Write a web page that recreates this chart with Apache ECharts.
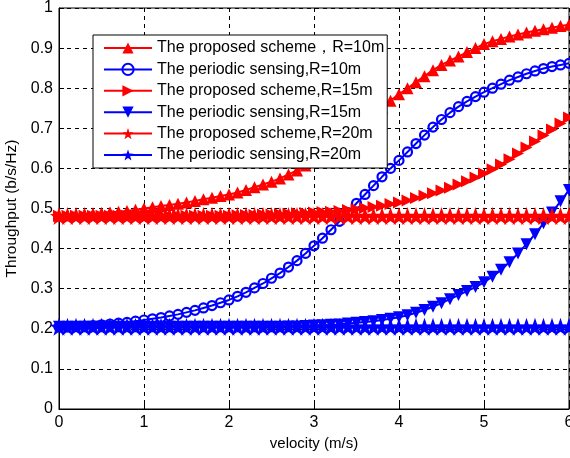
<!DOCTYPE html>
<html>
<head>
<meta charset="utf-8">
<script src="https://cdn.jsdelivr.net/npm/echarts@6/dist/echarts.min.js"></script>
<style>html,body{margin:0;padding:0;background:#fff}#c{width:570px;height:458px}</style>
</head>
<body>
<div id="c"></div>
<script>
// velocity samples 0:0.1:6
var velocity = [];
for (var i = 0; i <= 60; i++) velocity.push(+(i / 10).toFixed(1));

var seriesNames = [
  'The proposed scheme\uFF0CR=10m',
  'The periodic sensing,R=10m',
  'The proposed scheme,R=15m',
  'The periodic sensing,R=15m',
  'The proposed scheme,R=20m',
  'The periodic sensing,R=20m'
];

var proposedR10 = [
  0.482,0.483,0.484,0.485,0.486,0.488,0.490,0.492,0.494,0.497,
  0.500,0.503,0.506,0.509,0.512,0.515,0.519,0.523,0.527,0.531,
  0.535,0.540,0.546,0.553,0.560,0.567,0.575,0.585,0.595,0.607,
  0.620,0.635,0.651,0.667,0.684,0.700,0.717,0.735,0.752,0.769,
  0.785,0.800,0.815,0.830,0.845,0.858,0.869,0.879,0.890,0.900,
  0.910,0.917,0.923,0.929,0.934,0.939,0.943,0.947,0.951,0.955,
  0.958
];
var periodicR10 = [
  0.205,0.205,0.206,0.207,0.208,0.210,0.212,0.214,0.216,0.219,
  0.222,0.225,0.228,0.232,0.236,0.241,0.246,0.252,0.258,0.265,
  0.272,0.281,0.291,0.302,0.313,0.326,0.339,0.354,0.370,0.388,
  0.407,0.426,0.447,0.468,0.490,0.513,0.535,0.557,0.579,0.600,
  0.620,0.641,0.662,0.683,0.703,0.722,0.739,0.754,0.767,0.779,
  0.790,0.800,0.810,0.820,0.828,0.836,0.843,0.849,0.854,0.858,
  0.862
];
var proposedR15 = [
  0.482,0.482,0.482,0.482,0.482,0.482,0.482,0.482,0.482,0.482,
  0.482,0.482,0.482,0.482,0.482,0.482,0.482,0.482,0.482,0.482,
  0.482,0.483,0.484,0.484,0.485,0.485,0.486,0.487,0.488,0.489,
  0.490,0.491,0.492,0.494,0.496,0.498,0.501,0.504,0.507,0.511,
  0.515,0.520,0.526,0.532,0.538,0.545,0.552,0.560,0.568,0.577,
  0.587,0.598,0.610,0.623,0.637,0.652,0.667,0.682,0.697,0.712,
  0.727
];
var periodicR15 = [
  0.205,0.205,0.205,0.205,0.205,0.205,0.205,0.205,0.205,0.205,
  0.205,0.205,0.205,0.205,0.205,0.205,0.205,0.205,0.205,0.205,
  0.205,0.205,0.205,0.205,0.205,0.205,0.205,0.206,0.206,0.207,
  0.208,0.209,0.210,0.211,0.213,0.215,0.217,0.219,0.222,0.225,
  0.229,0.234,0.240,0.247,0.255,0.264,0.274,0.284,0.294,0.304,
  0.316,0.330,0.347,0.366,0.388,0.411,0.436,0.463,0.490,0.518,
  0.546
];
var proposedR20 = [
  0.481,0.481,0.481,0.481,0.481,0.481,0.481,0.481,0.481,0.481,
  0.481,0.481,0.481,0.481,0.481,0.481,0.481,0.481,0.481,0.481,
  0.481,0.481,0.481,0.481,0.481,0.481,0.481,0.481,0.481,0.481,
  0.481,0.481,0.481,0.481,0.481,0.481,0.481,0.481,0.481,0.481,
  0.481,0.481,0.481,0.481,0.481,0.481,0.481,0.481,0.481,0.481,
  0.481,0.481,0.481,0.481,0.481,0.481,0.481,0.481,0.481,0.481,
  0.481
];
var periodicR20 = [
  0.205,0.205,0.205,0.205,0.205,0.205,0.205,0.205,0.205,0.205,
  0.205,0.205,0.205,0.205,0.205,0.205,0.205,0.205,0.205,0.205,
  0.205,0.205,0.205,0.205,0.205,0.205,0.205,0.205,0.205,0.205,
  0.205,0.205,0.205,0.205,0.205,0.205,0.205,0.205,0.205,0.205,
  0.205,0.205,0.205,0.205,0.205,0.205,0.205,0.205,0.205,0.205,
  0.205,0.205,0.205,0.205,0.205,0.205,0.205,0.205,0.205,0.205,
  0.205
];

var xTicks = [0,1,2,3,4,5,6];
var yTicks = [0,0.1,0.2,0.3,0.4,0.5,0.6,0.7,0.8,0.9,1];

var STAR = 'path://M0,-10L2.35,-3.24L9.51,-3.09L3.8,1.24L5.88,8.09L0,4L-5.88,8.09L-3.8,1.24L-9.51,-3.09L-2.35,-3.24Z';
var RED = '#ff0000', BLUE = '#0000ff';

function pairs(ys) { return velocity.map(function (x, i) { return [x, ys[i]]; }); }

function mk(name, ys, color, symbol, size, rotate, hollow) {
  return {
    name: name, type: 'line', data: pairs(ys),
    symbol: symbol, symbolSize: size, symbolRotate: rotate || 0,
    showAllSymbol: true, animation: false,
    lineStyle: { color: color, width: 2 },
    itemStyle: hollow
      ? { color: 'rgba(255,255,255,0)', borderColor: color, borderWidth: 2.2 }
      : { color: color, borderColor: color, borderWidth: 0 },
    emphasis: { disabled: true }
  };
}

var chart = echarts.init(document.getElementById('c'), null, { renderer: 'canvas' });
var font = "'Liberation Sans', Arial, Helvetica, sans-serif";
chart.setOption({
  backgroundColor: '#fff',
  animation: false,
  textStyle: { fontFamily: font },
  grid: { left: 59, right: 1, top: 8, bottom: 49, show: true, borderColor: '#000', borderWidth: 1,
    backgroundColor: '#fff', containLabel: false, outerBoundsMode: 'none' },
  legend: {
    orient: 'vertical', left: 93, top: 35,
    backgroundColor: '#fff', borderColor: '#000', borderWidth: 1,
    padding: [5, 3, 5, 10], itemGap: 5.4, itemWidth: 48, itemHeight: 14,
    textStyle: { fontFamily: font, fontSize: 16, color: '#000' },
    data: seriesNames
  },
  xAxis: {
    type: 'value', min: 0, max: 6, interval: 1,
    name: 'velocity (m/s)', nameLocation: 'middle', nameGap: 26,
    nameTextStyle: { fontFamily: font, fontSize: 15, color: '#000' },
    axisLine: { show: true, lineStyle: { color: '#000', width: 1 } },
    axisTick: { show: true, inside: true, length: 5, lineStyle: { color: '#000' } },
    axisLabel: { color: '#000', fontSize: 16, fontFamily: font, margin: 6,
      formatter: function (v) { return xTicks.indexOf(v) >= 0 ? String(v) : ''; } },
    splitLine: { show: true, lineStyle: { color: '#000', type: [4, 4], width: 1 } }
  },
  yAxis: {
    type: 'value', min: 0, max: 1, interval: 0.1,
    name: 'Throughput (b/s/Hz)', nameLocation: 'middle', nameGap: 36,
    nameTextStyle: { fontFamily: font, fontSize: 15.5, color: '#000' },
    axisLine: { show: true, lineStyle: { color: '#000', width: 1 } },
    axisTick: { show: true, inside: true, length: 5, lineStyle: { color: '#000' } },
    axisLabel: { color: '#000', fontSize: 16, fontFamily: font, margin: 6,
      formatter: function (v) {
        var r = Math.round(v * 10) / 10;
        return yTicks.indexOf(r) >= 0 ? String(r) : '';
      } },
    splitLine: { show: true, lineStyle: { color: '#000', type: [4, 4], width: 1 } }
  },
  series: [
    mk(seriesNames[0], proposedR10, RED, 'triangle', 12, 0, false),
    mk(seriesNames[1], periodicR10, BLUE, 'circle', 9, 0, true),
    mk(seriesNames[2], proposedR15, RED, 'triangle', 12, -90, false),
    mk(seriesNames[3], periodicR15, BLUE, 'triangle', 12, 180, false),
    mk(seriesNames[4], proposedR20, RED, STAR, 18, 0, false),
    mk(seriesNames[5], periodicR20, BLUE, STAR, 18, 0, false)
  ]
});
</script>
</body>
</html>
